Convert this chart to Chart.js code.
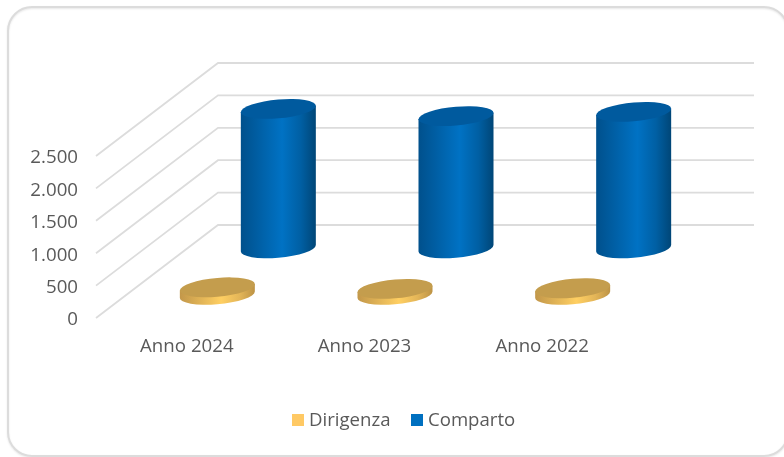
<!DOCTYPE html>
<html>
<head>
<meta charset="utf-8">
<style>
  html, body { margin: 0; padding: 0; background: #fff; }
  #wrap { position: relative; width: 784px; height: 457px; overflow: hidden; }
</style>
<script src="https://cdn.jsdelivr.net/npm/chart.js@4"></script>
</head>
<body>
<div id="wrap"><canvas id="myChart" width="784" height="457"></canvas></div>
<script>
const categories = ['Anno 2024', 'Anno 2023', 'Anno 2022'];
const dirigenza = [115, 90, 100];
const comparto = [2150, 2040, 2105];
const yTicks = [0, 500, 1000, 1500, 2000, 2500];

// how far the floor runs back from the front plane
const depthX = 122;
const depthY = -93;
const gridColor = '#dcdcdc';
const textColor = '#595959';
const fontFamily = '"Open Sans", sans-serif';

// a bar controller that paints sheared cylinders instead of rectangles
class CylinderController extends Chart.BarController {
    draw() {
        const ctx = this.chart.ctx;
        const ds = this.getDataset();
        const slot = (this.index + 0.5) / this.chart.data.datasets.length;
        const a = 37.5, b = 9.4, shear = -3.2;

        this.getMeta().data.forEach(function(bar) {
            const cx = bar.x + depthX * slot;
            const base = bar.base + depthY * slot;
            const h = bar.base - bar.y;

            ctx.save();
            ctx.transform(1, shear / a, 0, 1, cx, base);

            const side = ctx.createLinearGradient(-a, 0, a, 0);
            side.addColorStop(0, ds.sideColors[0]);
            side.addColorStop(0.55, ds.sideColors[1]);
            side.addColorStop(0.8, ds.sideColors[2]);
            side.addColorStop(1, ds.sideColors[3]);

            ctx.beginPath();
            ctx.moveTo(-a, -h);
            ctx.lineTo(-a, 0);
            ctx.ellipse(0, 0, a, b, 0, Math.PI, 0, true);
            ctx.lineTo(a, -h);
            ctx.closePath();
            ctx.fillStyle = side;
            ctx.fill();

            ctx.beginPath();
            ctx.ellipse(0, -h, a, b, 0, 0, Math.PI * 2);
            ctx.fillStyle = ds.topColor;
            ctx.fill();
            ctx.restore();
        });
    }
}
CylinderController.id = 'cylinder';
CylinderController.defaults = Chart.BarController.defaults;
Chart.register(CylinderController);

// frame, floor grid and legend
const backdrop = {
    id: 'backdrop',
    beforeDatasetsDraw(chart) {
        const ctx = chart.ctx;
        const y = chart.scales.y;
        const area = chart.chartArea;

        ctx.save();
        ctx.strokeStyle = gridColor;
        ctx.lineWidth = 2;
        ctx.save();
        ctx.shadowColor = 'rgba(0,0,0,0.1)';
        ctx.shadowBlur = 2;
        ctx.shadowOffsetY = 1;
        ctx.beginPath();
        ctx.roundRect(8, 7, 780, 449, 24);
        ctx.stroke();
        ctx.restore();

        ctx.lineWidth = 1.8;
        y.ticks.forEach(function(tick) {
            const py = y.getPixelForValue(tick.value);
            ctx.beginPath();
            ctx.moveTo(area.left - 2, py);
            ctx.lineTo(area.left + depthX - 2, py + depthY);
            ctx.lineTo(area.right + depthX + 1, py + depthY);
            ctx.stroke();
        });
        ctx.restore();
    },
    afterDraw(chart) {
        const ctx = chart.ctx;
        const spots = [[292, 309], [411, 428]];
        ctx.save();
        ctx.font = '18.6px ' + fontFamily;
        ctx.textBaseline = 'middle';
        chart.data.datasets.forEach(function(ds, i) {
            ctx.fillStyle = ds.backgroundColor;
            ctx.fillRect(spots[i][0], 414, 12, 12);
            ctx.fillStyle = textColor;
            ctx.fillText(ds.label, spots[i][1], 421);
        });
        ctx.restore();
    }
};

const myChart = new Chart(document.getElementById('myChart'), {
    type: 'cylinder',
    data: {
        labels: categories,
        datasets: [{
            label: 'Dirigenza',
            data: dirigenza,
            backgroundColor: '#ffc964',
            topColor: '#c49d4d',
            sideColors: ['#c2974a', '#ffcf62', '#e3b558', '#bd9345'],
            grouped: false,
            clip: false
        }, {
            label: 'Comparto',
            data: comparto,
            backgroundColor: '#0070c0',
            topColor: '#005a9e',
            sideColors: ['#00508c', '#0072c4', '#005fa3', '#004677'],
            grouped: false,
            clip: false
        }]
    },
    options: {
        responsive: false,
        animation: false,
        layout: {
            padding: {top: 156, right: 153}
        },
        plugins: {
            legend: {display: false},
            tooltip: {enabled: false}
        },
        scales: {
            x: {
                type: 'category',
                offset: true,
                grid: {display: false, drawTicks: false},
                border: {display: false},
                ticks: {
                    color: textColor,
                    font: {family: fontFamily, size: 18.7},
                    padding: 17,
                    maxRotation: 0
                },
                afterFit(scale) { scale.height = 139; }
            },
            y: {
                type: 'linear',
                min: 0,
                max: 2500,
                grid: {display: false, drawTicks: false},
                border: {display: false},
                afterBuildTicks(scale) {
                    scale.ticks = yTicks.map(function(v) { return {value: v}; });
                },
                ticks: {
                    color: textColor,
                    font: {family: fontFamily, size: 18.7},
                    padding: 20,
                    labelOffset: 2,
                    callback: function(v) { return v.toLocaleString('it-IT'); }
                },
                afterFit(scale) { scale.width = 98; }
            }
        }
    },
    plugins: [backdrop]
});
</script>
</body>
</html>
